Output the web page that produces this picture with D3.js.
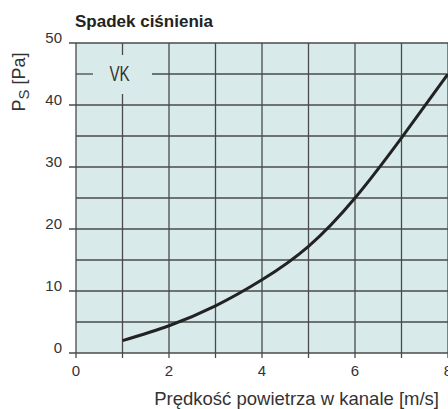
<!DOCTYPE html>
<html><head><meta charset="utf-8">
<script src="https://cdn.jsdelivr.net/npm/d3@7"></script>
<style>body{margin:0;background:#fff}svg{display:block}text{font-family:"Liberation Sans",Arial,sans-serif}</style>
</head><body>
<script>
const speeds = [1, 2, 3, 4, 5, 6, 7, 8];
const pressure = [2.0, 4.4, 7.6, 11.8, 17.2, 25.0, 34.7, 45.0];
const xTicks = [0, 2, 4, 6, 8];
const yTicks = [0, 10, 20, 30, 40, 50];
const title = "Spadek ciśnienia";
const xLabel = "Prędkość powietrza w kanale [m/s]";
const seriesLabel = "VK";

const W = 448, H = 409;
const svg = d3.select("body").append("svg").attr("width", W).attr("height", H);
const x = d3.scaleLinear().domain([0, 8]).range([76, 448]);
const y = d3.scaleLinear().domain([0, 50]).range([353, 43]);

svg.append("rect").attr("x", x(0)).attr("y", y(50)).attr("width", x(8) - x(0)).attr("height", y(0) - y(50)).attr("fill", "#d8ebea");

const grid = svg.append("g").attr("stroke", "#4a4a4a").attr("stroke-width", 1.3);
d3.range(0, 9).forEach(v => {
  if (v === 1) {
    grid.append("line").attr("x1", x(v)).attr("x2", x(v)).attr("y1", y(50)).attr("y2", 55);
    grid.append("line").attr("x1", x(v)).attr("x2", x(v)).attr("y1", 94).attr("y2", y(0) + 5);
  } else {
    grid.append("line").attr("x1", x(v)).attr("x2", x(v)).attr("y1", y(50)).attr("y2", y(0) + 5);
  }
});
d3.range(0, 51, 5).forEach(v => {
  const x0 = (v % 10 === 0) ? x(0) - 7 : x(0);
  if (v === 45) {
    grid.append("line").attr("x1", x0).attr("x2", 93).attr("y1", y(v)).attr("y2", y(v));
    grid.append("line").attr("x1", 152).attr("x2", x(8)).attr("y1", y(v)).attr("y2", y(v));
  } else {
    grid.append("line").attr("x1", x0).attr("x2", x(8)).attr("y1", y(v)).attr("y2", y(v));
  }
});

svg.append("g").selectAll("text").data(yTicks).join("text")
  .attr("x", 62).attr("y", d => y(d)).attr("text-anchor", "end")
  .attr("font-size", 15).attr("fill", "#333").text(d => d);
svg.append("g").selectAll("text").data(xTicks).join("text")
  .attr("x", d => x(d)).attr("y", 376).attr("text-anchor", "middle")
  .attr("font-size", 15).attr("fill", "#333").text(d => d);

const line = d3.line().x((d, i) => x(speeds[i])).y(d => y(d)).curve(d3.curveNatural);
svg.append("path").attr("d", line(pressure)).attr("fill", "none").attr("stroke", "#222").attr("stroke-width", 3);

svg.append("text").attr("transform", `translate(${x(1) - 3},81) scale(0.69,1)`)
  .attr("text-anchor", "middle").attr("font-size", 22).attr("fill", "#333").text(seriesLabel);

svg.append("text").attr("x", 75).attr("y", 27).attr("font-size", 17).attr("font-weight", "bold").attr("fill", "#222").text(title);

svg.append("text").attr("x", 439).attr("y", 405).attr("text-anchor", "end").attr("font-size", 18.5).attr("fill", "#333").text(xLabel);

const yl = svg.append("text").attr("transform", "translate(25,82) rotate(-90)").attr("text-anchor", "middle").attr("font-size", 18).attr("fill", "#333");
yl.append("tspan").text("P");
yl.append("tspan").attr("dy", 4).attr("font-size", 15).text("S");
yl.append("tspan").attr("dy", -4).text(" [Pa]");
</script>
</body></html>
